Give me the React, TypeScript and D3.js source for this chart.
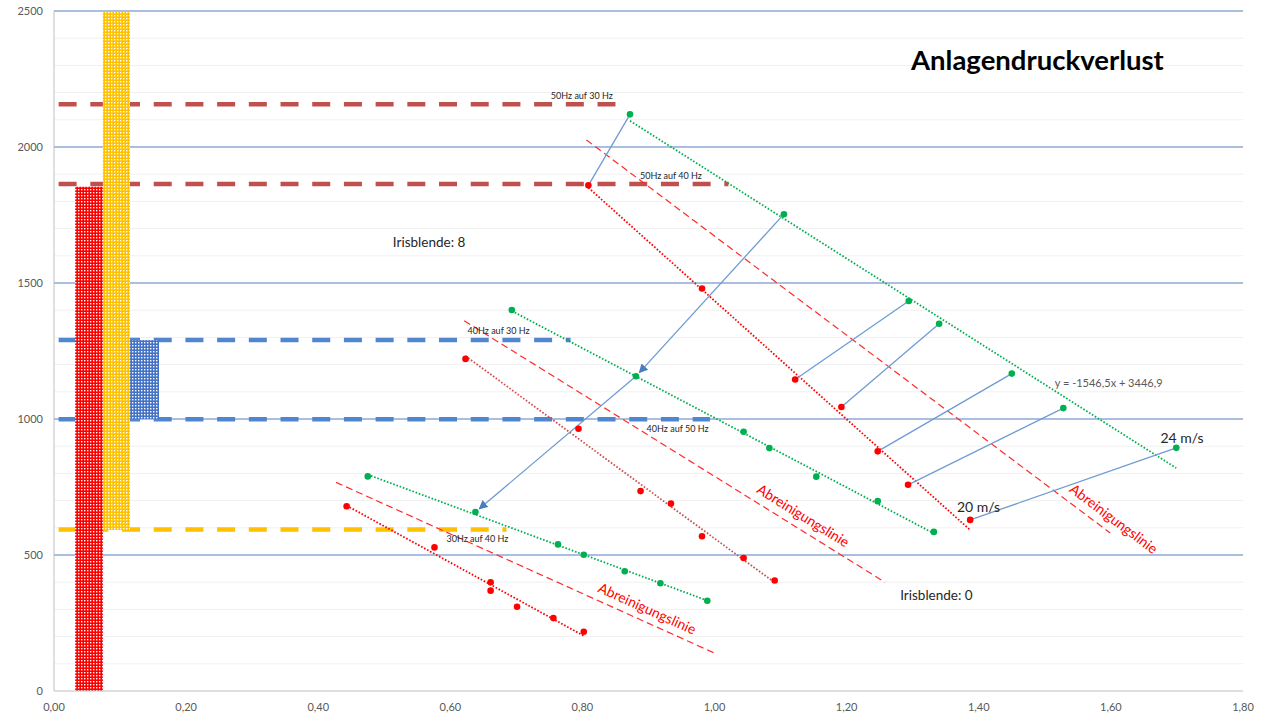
import React, { useEffect, useRef } from 'react';
import * as d3 from 'd3';

type Pt = [number, number];

// measured series (x = volume flow, y = pressure drop)
const upperGreen: Pt[] = [[0.872, 2120], [1.105, 1753], [1.294, 1434], [1.340, 1350], [1.450, 1167], [1.528, 1040], [1.699, 894]];
const upperRed: Pt[] = [[0.809, 1859], [0.981, 1480], [1.122, 1145], [1.192, 1044], [1.247, 881], [1.293, 758], [1.387, 629]];
const middleGreen: Pt[] = [[0.693, 1401], [0.881, 1157], [1.044, 953], [1.083, 893], [1.154, 788], [1.247, 698], [1.332, 585]];
const middleRed: Pt[] = [[0.623, 1221], [0.794, 964], [0.888, 735], [0.934, 689], [0.981, 569], [1.044, 489], [1.091, 406]];
const lowerGreen: Pt[] = [[0.475, 789], [0.638, 658], [0.763, 539], [0.802, 501], [0.864, 440], [0.918, 396], [0.989, 332]];
const lowerRed: Pt[] = [[0.443, 679], [0.576, 528], [0.661, 400], [0.661, 369], [0.701, 310], [0.756, 268], [0.802, 218]];

// connectors red -> green
const connectors: [Pt, Pt][] = [
    [[0.809, 1859], [0.872, 2120]],
    [[1.122, 1145], [1.294, 1434]],
    [[1.192, 1044], [1.340, 1350]],
    [[1.247, 881], [1.450, 1167]],
    [[1.293, 758], [1.528, 1040]],
    [[1.387, 629], [1.699, 894]],
];
const arrows: [Pt, Pt][] = [
    [[1.105, 1753], [0.881, 1157]],
    [[0.881, 1157], [0.638, 658]],
];

// Abreinigungslinien
const cleanLines: { from: Pt; to: Pt; label: Pt }[] = [
    { from: [0.806, 2026], to: [1.599, 581], label: [1.603, 629] },
    { from: [0.621, 1361], to: [1.258, 400], label: [1.133, 640] },
    { from: [0.427, 767], to: [1.003, 136], label: [0.897, 298] },
];

// horizontal frequency levels
const levels = [
    { y: 2157, x1: 0.007, x2: 0.85, color: '#c0504d' },
    { y: 1864, x1: 0.007, x2: 1.021, color: '#c0504d' },
    { y: 1290, x1: 0.007, x2: 0.782, color: '#4f86cf' },
    { y: 999, x1: 0.007, x2: 0.993, color: '#4f86cf' },
    { y: 594, x1: 0.007, x2: 0.685, color: '#ffc000' },
];

const bars = [
    { x1: 0.032, x2: 0.074, y1: 0, y2: 1854, color: '#ff0000', id: 'pRed' },
    { x1: 0.074, x2: 0.115, y1: 592, y2: 2500, color: '#ffc000', id: 'pYellow' },
    { x1: 0.115, x2: 0.159, y1: 1000, y2: 1290, color: '#4472c4', id: 'pBlue' },
];

const hzLabels: { text: string; pos: Pt }[] = [
    { text: '50Hz auf 30 Hz', pos: [0.799, 2176] },
    { text: '50Hz auf 40 Hz', pos: [0.934, 1882] },
    { text: '40Hz auf 30 Hz', pos: [0.673, 1312] },
    { text: '40Hz auf 50 Hz', pos: [0.944, 952] },
    { text: '30Hz auf 40 Hz', pos: [0.641, 548] },
];

const xTicks = [0, 0.2, 0.4, 0.6, 0.8, 1.0, 1.2, 1.4, 1.6, 1.8];
const yTicks = [0, 500, 1000, 1500, 2000, 2500];

const width = 1280;
const height = 720;
const font = 'Lato, "Open Sans", sans-serif';

const Chart = () => {
    const svgRef = useRef<SVGSVGElement | null>(null);

    useEffect(() => {
        if (!svgRef.current) return;
        const svg = d3.select(svgRef.current);
        svg.selectAll('*').remove();

        const x = d3.scaleLinear().domain([0, 1.8]).range([54, 1243]);
        const y = d3.scaleLinear().domain([0, 2500]).range([691, 11]);

        const defs = svg.append('defs');
        bars.forEach((b) => {
            const p = defs.append('pattern').attr('id', b.id).attr('patternUnits', 'userSpaceOnUse')
                .attr('width', 3).attr('height', 3);
            p.append('rect').attr('width', 3).attr('height', 3).attr('fill', b.color);
            p.append('rect').attr('width', 1.4).attr('height', 1.4).attr('fill', '#fff');
        });
        defs.append('marker').attr('id', 'arrow').attr('viewBox', '0 0 10 10').attr('refX', 9).attr('refY', 5)
            .attr('markerWidth', 7).attr('markerHeight', 7).attr('orient', 'auto-start-reverse')
            .append('path').attr('d', 'M0,0 L10,5 L0,10 z').attr('fill', '#4a7ebb');

        // minor + major grid
        const g = svg.append('g');
        g.selectAll('line.minor').data(d3.range(100, 2500, 100).filter((v) => v % 500 !== 0)).enter()
            .append('line').attr('x1', x(0)).attr('x2', x(1.8)).attr('y1', (d) => y(d)).attr('y2', (d) => y(d))
            .attr('stroke', '#f0f0f0').attr('stroke-width', 1);
        g.selectAll('line.major').data(yTicks.filter((v) => v > 0)).enter()
            .append('line').attr('x1', x(0)).attr('x2', x(1.8)).attr('y1', (d) => y(d)).attr('y2', (d) => y(d))
            .attr('stroke', '#8eaad6').attr('stroke-width', 1.3);

        // horizontal dashed levels
        levels.forEach((l) => {
            g.append('line').attr('x1', x(l.x1)).attr('x2', x(l.x2)).attr('y1', y(l.y)).attr('y2', y(l.y))
                .attr('stroke', l.color).attr('stroke-width', 4.5).attr('stroke-dasharray', '18,13.7');
        });

        // bars (drawn over the level lines)
        bars.forEach((b) => {
            g.append('rect').attr('x', x(b.x1)).attr('width', x(b.x2) - x(b.x1))
                .attr('y', y(b.y2)).attr('height', y(b.y1) - y(b.y2)).attr('fill', `url(#${b.id})`);
        });

        // axes lines
        g.append('line').attr('x1', x(0)).attr('x2', x(0)).attr('y1', y(0)).attr('y2', y(2500)).attr('stroke', '#bfbfbf');
        g.append('line').attr('x1', x(0)).attr('x2', x(1.8)).attr('y1', y(0)).attr('y2', y(0)).attr('stroke', '#bfbfbf');

        // tick labels
        g.selectAll('text.xt').data(xTicks).enter().append('text')
            .attr('x', (d) => x(d)).attr('y', 711).attr('text-anchor', 'middle')
            .attr('font-family', font).attr('font-size', 11).attr('fill', '#595959')
            .text((d) => d3.format('.2f')(d).replace('.', ','));
        g.selectAll('text.yt').data(yTicks).enter().append('text')
            .attr('x', 43).attr('y', (d) => y(d) + 4).attr('text-anchor', 'end')
            .attr('font-family', font).attr('font-size', 11).attr('fill', '#595959')
            .text((d) => String(d));

        // Abreinigungslinien
        cleanLines.forEach((c) => {
            g.append('line').attr('x1', x(c.from[0])).attr('y1', y(c.from[1]))
                .attr('x2', x(c.to[0])).attr('y2', y(c.to[1]))
                .attr('stroke', '#ff2a2a').attr('stroke-width', 1.2).attr('stroke-dasharray', '7,4');
            const ang = (Math.atan2(y(c.to[1]) - y(c.from[1]), x(c.to[0]) - x(c.from[0])) * 180) / Math.PI;
            g.append('text').attr('transform', `translate(${x(c.label[0])},${y(c.label[1])}) rotate(${ang})`)
                .attr('text-anchor', 'middle').attr('dominant-baseline', 'middle')
                .attr('font-family', font).attr('font-size', 14).attr('fill', '#ff0000').text('Abreinigungslinie');
        });

        // linear trendlines
        const trend = (pts: Pt[], color: string) => {
            const mx = d3.mean(pts, (p) => p[0])!;
            const my = d3.mean(pts, (p) => p[1])!;
            const sxy = d3.sum(pts, (p) => (p[0] - mx) * (p[1] - my));
            const sxx = d3.sum(pts, (p) => (p[0] - mx) ** 2);
            const m = sxy / sxx;
            const b = my - m * mx;
            const [x0, x1] = d3.extent(pts, (p) => p[0]) as [number, number];
            g.append('line').attr('x1', x(x0)).attr('y1', y(m * x0 + b)).attr('x2', x(x1)).attr('y2', y(m * x1 + b))
                .attr('stroke', color).attr('stroke-width', 1.8).attr('stroke-dasharray', '1.6,1.8');
        };
        trend(upperGreen, '#00b050');
        trend(upperRed, '#ff0000');
        trend(middleGreen, '#00b050');
        trend(middleRed, '#cd5050');
        trend(lowerGreen, '#00b050');
        trend(lowerRed, '#ff0000');

        // connectors
        connectors.forEach(([a, b]) => {
            g.append('line').attr('x1', x(a[0])).attr('y1', y(a[1])).attr('x2', x(b[0])).attr('y2', y(b[1]))
                .attr('stroke', '#6f9bd3').attr('stroke-width', 1.3);
        });
        arrows.forEach(([a, b]) => {
            const ax = x(a[0]), ay = y(a[1]), bx = x(b[0]), by = y(b[1]);
            const len = Math.hypot(bx - ax, by - ay);
            const k = (len - 5) / len;
            g.append('line').attr('x1', ax).attr('y1', ay).attr('x2', ax + (bx - ax) * k).attr('y2', ay + (by - ay) * k)
                .attr('stroke', '#6f9bd3').attr('stroke-width', 1.3).attr('marker-end', 'url(#arrow)');
        });

        // markers
        const dots = (pts: Pt[], color: string) => {
            g.append('g').selectAll('circle').data(pts).enter().append('circle')
                .attr('cx', (d) => x(d[0])).attr('cy', (d) => y(d[1])).attr('r', 3.3).attr('fill', color);
        };
        [upperGreen, middleGreen, lowerGreen].forEach((s) => dots(s, '#00b050'));
        [upperRed, middleRed, lowerRed].forEach((s) => dots(s, '#ff0000'));

        // annotations
        hzLabels.forEach((l) => {
            g.append('text').attr('x', x(l.pos[0])).attr('y', y(l.pos[1])).attr('text-anchor', 'middle')
                .attr('font-family', font).attr('font-size', 9).attr('fill', '#262626').text(l.text);
        });
        const note = (t: string, p: Pt, size: number, color: string) =>
            g.append('text').attr('x', x(p[0])).attr('y', y(p[1])).attr('font-family', font)
                .attr('font-size', size).attr('fill', color).text(t);
        note('y = -1546,5x + 3446,9', [1.515, 1118], 11, '#595959');
        note('24 m/s', [1.675, 912], 14, '#262626');
        note('20 m/s', [1.367, 658], 14, '#262626');
        note('Irisblende: 8', [0.513, 1632], 13.5, '#262626');
        note('Irisblende: 0', [1.281, 335], 13.5, '#262626');

        svg.append('text').attr('x', 911).attr('y', 70).attr('font-family', font).attr('font-weight', 'bold')
            .attr('font-size', 27.5).attr('fill', '#000').text('Anlagendruckverlust');
    }, []);

    return <svg ref={svgRef} width={width} height={height} style={{ position: 'absolute', left: 0, top: 0, background: '#fff' }}></svg>;
};

export default function App() {
    return <Chart />;
}
